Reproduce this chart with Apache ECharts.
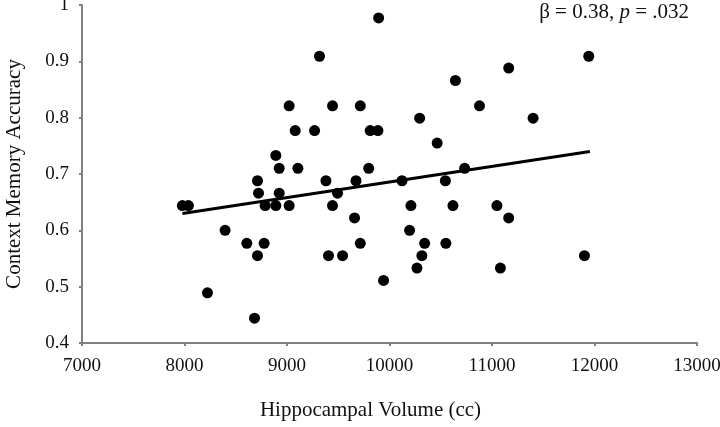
<!DOCTYPE html>
<html>
<head>
<meta charset="utf-8">
<script src="https://cdn.jsdelivr.net/npm/echarts@6/dist/echarts.min.js"></script>
<style>html,body{margin:0;padding:0;background:#fff;}#c{width:720px;height:427px;}</style>
</head>
<body>
<div id="c"></div>
<script>
// Hippocampal volume (cc)
var volume = [7979, 8038, 8224, 8396, 8608, 8683, 8712, 8712, 8722, 8777, 8787, 8891, 8891, 8924, 8924,
  9021, 9021, 9080, 9106, 9269, 9317, 9380, 9405, 9444, 9444, 9493, 9542, 9659, 9673, 9715, 9715,
  9797, 9812, 9887, 9894, 9942, 10122, 10196, 10209, 10268, 10294, 10316, 10343, 10465, 10545,
  10550, 10619, 10643, 10733, 10878, 11048, 11082, 11163, 11163, 11401, 11902, 11944];
// Context memory accuracy
var accuracy = [0.644, 0.644, 0.489, 0.600, 0.577, 0.444, 0.688, 0.555, 0.666, 0.577, 0.644, 0.733, 0.644, 0.710, 0.666,
  0.821, 0.644, 0.777, 0.710, 0.777, 0.909, 0.688, 0.555, 0.821, 0.644, 0.666, 0.555, 0.622, 0.688, 0.821, 0.577,
  0.710, 0.777, 0.777, 0.977, 0.511, 0.688, 0.600, 0.644, 0.533, 0.799, 0.555, 0.577, 0.755, 0.688,
  0.577, 0.644, 0.866, 0.710, 0.821, 0.644, 0.533, 0.888, 0.622, 0.799, 0.555, 0.909];
// Fitted regression line endpoints
var fitVolume = [7980, 11955];
var fitAccuracy = [0.630, 0.740];

var points = volume.map(function (v, i) { return [v, accuracy[i]]; });
var fit = fitVolume.map(function (v, i) { return [v, fitAccuracy[i]]; });

var font = '"Liberation Serif", "Times New Roman", serif';
var axisColor = '#808080';
var chart = echarts.init(document.getElementById('c'), null, {renderer: 'canvas'});
chart.setOption({
  animation: false,
  backgroundColor: '#fff',
  grid: {left: 82, right: 23, top: 5, bottom: 84, containLabel: false, outerBoundsMode: 'none'},
  xAxis: {
    type: 'value', min: 7000, max: 13000, interval: 1000,
    name: 'Hippocampal Volume (cc)', nameLocation: 'middle', nameGap: 57,
    nameTextStyle: {fontFamily: font, fontSize: 21, color: '#111', padding: [0, 38, 0, 0]},
    axisLine: {show: true, lineStyle: {color: axisColor, width: 2}},
    axisTick: {show: true, length: 3, lineStyle: {color: axisColor, width: 2}},
    axisLabel: {fontFamily: font, fontSize: 19, color: '#111', margin: 14,
      formatter: function (v) { return String(v); }},
    splitLine: {show: false}
  },
  yAxis: {
    type: 'value', min: 0.4, max: 1, interval: 0.1,
    name: 'Context Memory Accuracy', nameLocation: 'middle', nameGap: 57,
    nameTextStyle: {fontFamily: font, fontSize: 21, color: '#111'},
    axisLine: {show: true, lineStyle: {color: axisColor, width: 2}},
    axisTick: {show: true, length: 3, lineStyle: {color: axisColor, width: 2}},
    axisLabel: {fontFamily: font, fontSize: 19, color: '#111', margin: 13,
      formatter: function (v) { return String(Math.round(v * 10) / 10); }},
    splitLine: {show: false}
  },
  series: [
    {type: 'scatter', data: points, symbol: 'circle', symbolSize: 11,
     itemStyle: {color: '#000', opacity: 1}, z: 3},
    {type: 'line', data: fit, showSymbol: false, symbol: 'none',
     lineStyle: {color: '#000', width: 3}, z: 2}
  ],
  graphic: [{
    type: 'text', right: 31, top: 2,
    style: {
      rich: {
        n: {fontFamily: font, fontSize: 21, fill: '#111'},
        i: {fontFamily: font, fontSize: 21, fontStyle: 'italic', fill: '#111'}
      },
      text: '{n|β = 0.38, }{i|p}{n| = .032}'
    }
  }]
});
</script>
</body>
</html>
